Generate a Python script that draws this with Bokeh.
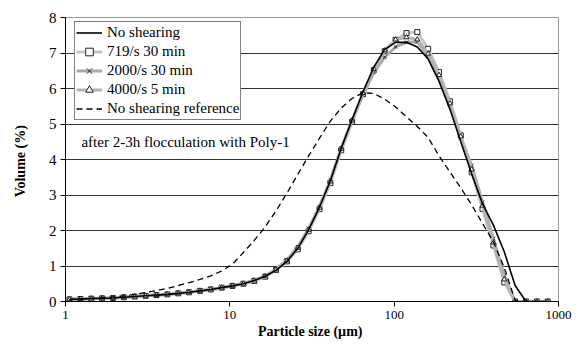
from bokeh.plotting import figure
from bokeh.models import FixedTicker, NumeralTickFormatter, Legend, LegendItem, Label
from bokeh.embed import file_html
from bokeh.resources import INLINE

# Particle size bins (µm)
sizes = [1.057, 1.231, 1.434, 1.670, 1.945, 2.265, 2.638, 3.072, 3.577, 4.165,
         4.850, 5.648, 6.577, 7.658, 8.918, 10.38, 12.09, 14.08, 16.40, 19.10,
         22.24, 25.90, 30.16, 35.12, 40.90, 47.63, 55.46, 64.58, 75.20, 87.59,
         102.0, 118.8, 138.3, 161.0, 187.6, 218.4, 254.3, 296.2, 344.9, 401.7,
         467.8, 544.7, 634.3, 738.6, 860.2]

low = [0.06, 0.07, 0.08, 0.09, 0.10, 0.12, 0.14, 0.16, 0.18, 0.20,
       0.23, 0.26, 0.30, 0.34, 0.39]

no_shearing = low + [0.44, 0.50, 0.59, 0.71, 0.88, 1.13, 1.50, 2.02, 2.66, 3.40,
                     4.32, 5.12, 5.90, 6.60, 7.10, 7.30, 7.30, 7.17, 6.83, 6.20,
                     5.42, 4.50, 3.60, 2.75, 2.15, 1.40, 0.45, 0.0, 0.0, 0.0]
s719 = low + [0.44, 0.50, 0.58, 0.70, 0.89, 1.13, 1.47, 1.98, 2.60, 3.34,
              4.26, 5.06, 5.84, 6.52, 7.05, 7.37, 7.56, 7.59, 7.12, 6.46,
              5.64, 4.68, 3.64, 2.61, 1.58, 0.54, 0.0, 0.0, 0.0, 0.0]
s2000 = low + [0.45, 0.51, 0.60, 0.72, 0.91, 1.17, 1.54, 2.06, 2.68, 3.42,
               4.33, 5.10, 5.82, 6.45, 6.88, 7.17, 7.30, 7.32, 6.90, 6.32,
               5.55, 4.62, 3.83, 2.80, 1.77, 0.73, 0.0, 0.0, 0.0, 0.0]
s4000 = low + [0.44, 0.50, 0.59, 0.71, 0.90, 1.15, 1.51, 2.02, 2.64, 3.38,
               4.30, 5.10, 5.87, 6.55, 7.07, 7.38, 7.44, 7.38, 6.98, 6.38,
               5.58, 4.65, 3.72, 2.70, 1.66, 0.62, 0.0, 0.0, 0.0, 0.0]
reference = [0.05, 0.07, 0.09, 0.11, 0.13, 0.16, 0.20, 0.25, 0.31, 0.37,
             0.45, 0.53, 0.62, 0.72, 0.86, 1.05, 1.38, 1.72, 2.10, 2.55,
             3.05, 3.58, 4.10, 4.60, 5.08, 5.45, 5.72, 5.88, 5.86, 5.70,
             5.48, 5.20, 4.93, 4.62, 4.10, 3.65, 3.20, 2.72, 2.20, 1.68,
             0.95, 0.03, 0.0, 0.0, 0.0]

x_ticks = [1, 10, 100, 1000]
y_ticks = [0, 1, 2, 3, 4, 5, 6, 7, 8]

SERIF = "Liberation Serif"

p = figure(width=575, height=343, x_axis_type="log", x_range=(1, 1000), y_range=(0, 8),
           output_backend="svg", toolbar_location=None,
           min_border_left=65, min_border_right=17, min_border_top=17, min_border_bottom=42)
p.background_fill_color = "white"
p.border_fill_color = "white"
p.outline_line_color = "#999999"
p.outline_line_width = 1

p.xgrid.visible = False
p.ygrid.grid_line_color = "#333333"
p.ygrid.grid_line_width = 1
p.ygrid.ticker = FixedTicker(ticks=y_ticks)

p.xaxis.ticker = FixedTicker(ticks=x_ticks, minor_ticks=[])
p.xaxis.formatter = NumeralTickFormatter(format="0")
p.yaxis.ticker = FixedTicker(ticks=y_ticks, minor_ticks=[])
for ax in (p.xaxis, p.yaxis):
    ax.axis_line_color = "black"
    ax.axis_line_width = 1
    ax.major_tick_line_color = "black"
    ax.major_tick_out = 5
    ax.major_tick_in = 0
    ax.minor_tick_out = 0
    ax.minor_tick_in = 0
    ax.major_label_text_font = SERIF
    ax.major_label_text_color = "black"
    ax.axis_label_text_font = SERIF
    ax.axis_label_text_font_style = "bold"
    ax.axis_label_text_font_size = "14px"
    ax.axis_label_text_color = "black"
p.xaxis.major_label_text_font_size = "13px"
p.yaxis.major_label_text_font_size = "15px"
p.xaxis.major_label_standoff = 4
p.yaxis.major_label_standoff = 4
p.xaxis.axis_label = "Particle size  (µm)"
p.yaxis.axis_label = "Volume  (%)"
p.xaxis.axis_label_standoff = 2
p.yaxis.axis_label_standoff = 18

gray = "#a8a8a8"
mk = "#222222"

l719 = p.line(sizes, s719, line_color="#c4c4c4", line_width=3)
m719 = p.scatter(sizes, s719, marker="square", size=5, line_color=mk, fill_color="white", line_width=1)
l2000 = p.line(sizes, s2000, line_color=gray, line_width=3)
m2000 = p.scatter(sizes, s2000, marker="x", size=5, line_color=mk, line_width=1)
l4000 = p.line(sizes, s4000, line_color="#b4b4b4", line_width=3)
m4000 = p.scatter(sizes, s4000, marker="triangle", size=5, line_color=mk, fill_color="white", line_width=1)
lno = p.line(sizes, no_shearing, line_color="black", line_width=1.6)
lref = p.line(sizes, reference, line_color="black", line_width=1.3, line_dash="6 4")

ann = Label(x=1.25, y=4.48, text="after 2-3h flocculation with Poly-1",
            text_font=SERIF, text_font_size="15px", text_baseline="middle", text_color="black")
p.add_layout(ann)

legend = Legend(items=[
    LegendItem(label="No shearing", renderers=[lno]),
    LegendItem(label="719/s 30 min", renderers=[l719, m719]),
    LegendItem(label="2000/s 30 min", renderers=[l2000, m2000]),
    LegendItem(label="4000/s 5 min", renderers=[l4000, m4000]),
    LegendItem(label="No shearing reference", renderers=[lref]),
], location=(9, 181))
legend.label_text_font = SERIF
legend.label_text_font_size = "15px"
legend.label_text_color = "black"
legend.border_line_color = "black"
legend.border_line_width = 1
legend.background_fill_color = "white"
legend.background_fill_alpha = 1
legend.padding = 1
legend.spacing = 0
legend.margin = 0
legend.glyph_height = 19
legend.label_height = 19
legend.glyph_width = 26
legend.label_standoff = 5
p.add_layout(legend)

open("out.html", "w").write(file_html(p, INLINE))
